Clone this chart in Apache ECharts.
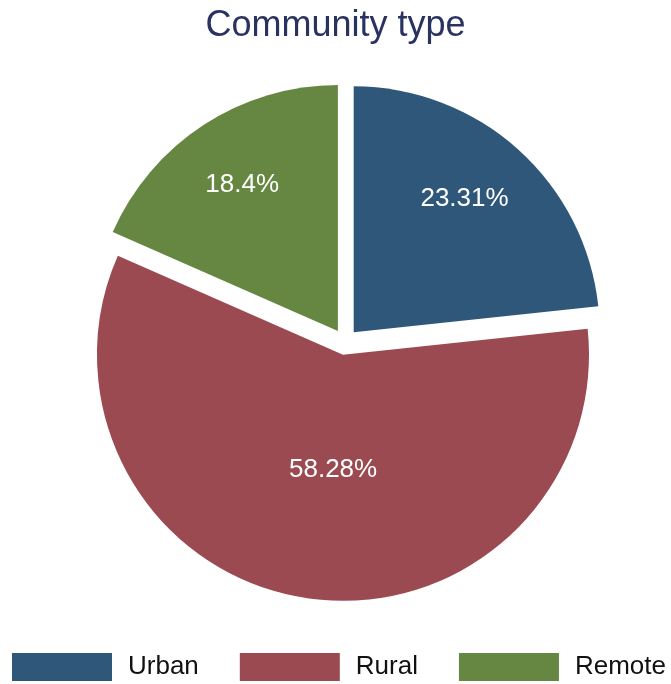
<!DOCTYPE html>
<html>
<head>
<meta charset="utf-8">
<script src="https://cdn.jsdelivr.net/npm/echarts@6/dist/echarts.min.js"></script>
<style>
  html, body { margin: 0; padding: 0; background: #ffffff; }
  #chart { width: 671px; height: 684px; }
</style>
</head>
<body>
<div id="chart"></div>
<script>
// Community type shares (percent)
const categories = ['Urban', 'Rural', 'Remote'];
const shares = [23.31, 58.28, 18.4];
const colors = ['#2f5779', '#9c4a51', '#658741'];
// radial placement of each value label, as a fraction of the radius
const labelRadius = [0.693, 0.455, 0.70];
// small sideways nudge of each value label (degrees, clockwise)
const labelTurn = [-2.3, -4, 0];

const R = 246;
const total = shares.reduce((a, b) => a + b, 0);

const chart = echarts.init(document.getElementById('chart'), null, { renderer: 'canvas' });

const fontFamily = '"Liberation Sans", Arial, Helvetica, sans-serif';

chart.setOption({
  animation: false,
  backgroundColor: '#ffffff',
  title: {
    text: 'Community type',
    left: 'center',
    top: 3,
    textStyle: { fontSize: 36, fontWeight: 'normal', color: '#2a3260', fontFamily: fontFamily }
  },
  legend: {
    data: categories,
    left: 12,
    top: 653,
    width: 659,
    padding: 0,
    orient: 'horizontal',
    icon: 'rect',
    itemWidth: 100,
    itemHeight: 28,
    itemGap: 41,
    selectedMode: false,
    textStyle: { fontSize: 26, color: '#111111', fontFamily: fontFamily, padding: [0, 0, 0, 11] }
  },
  series: [{
    type: 'pie',
    center: [345, 342],
    radius: [0, R],
    startAngle: 90,
    clockwise: true,
    selectedMode: 'multiple',
    selectedOffset: 13,
    avoidLabelOverlap: false,
    silent: true,
    emphasis: { disabled: true },
    itemStyle: { borderWidth: 0 },
    label: {
      show: true,
      position: 'inside',
      color: '#ffffff',
      fontSize: 26,
      fontFamily: fontFamily,
      formatter: p => p.value + '%'
    },
    labelLine: { show: false },
    labelLayout: function (params) {
      const i = params.dataIndex;
      let before = 0;
      for (let k = 0; k < i; k++) before += shares[k];
      const mid = (before + shares[i] / 2) / total * 2 * Math.PI;
      const turned = mid + labelTurn[i] * Math.PI / 180;
      // move from the default inside spot (half radius on the mid angle)
      const tx = Math.sin(turned) * labelRadius[i] * R - Math.sin(mid) * 0.5 * R;
      const ty = -Math.cos(turned) * labelRadius[i] * R + Math.cos(mid) * 0.5 * R;
      return { dx: tx, dy: ty };
    },
    data: categories.map((name, i) => ({
      name: name,
      value: shares[i],
      selected: true,
      itemStyle: { color: colors[i] }
    }))
  }]
});
</script>
</body>
</html>
